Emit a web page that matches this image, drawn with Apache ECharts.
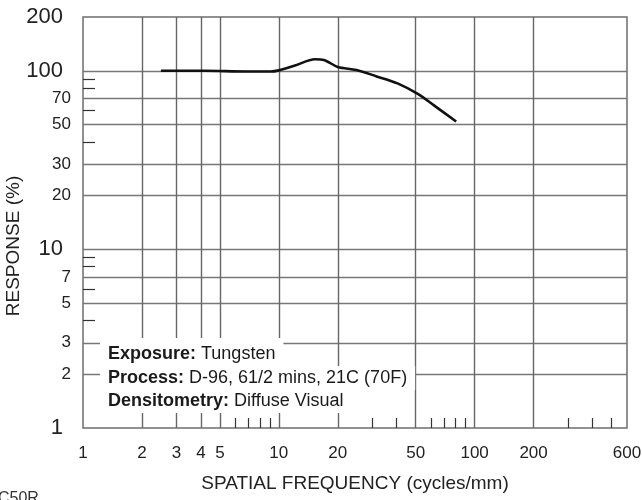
<!DOCTYPE html>
<html><head><meta charset="utf-8">
<script src="https://cdn.jsdelivr.net/npm/echarts@6/dist/echarts.min.js"></script>
<style>html,body{margin:0;padding:0;background:#fff}#c{width:642px;height:500px}</style>
</head><body><div id="c"></div>
<script>
const freq = [2.5, 4.2, 6.8, 9.1, 10, 12.1, 15.3, 17, 20, 24.9, 31.6, 40.4, 51.5, 62, 80.5];
const response = [100, 100, 99, 99, 100.5, 107, 116, 115, 105, 101, 93, 85, 74, 64, 52];
const xLabels = [1, 2, 3, 4, 5, 10, 20, 50, 100, 200, 600];
const xMinor = [6, 7, 8, 9, 30, 40, 60, 70, 80, 90, 300, 400, 500];
const yLabels = [1, 2, 3, 5, 7, 10, 20, 30, 50, 70, 100, 200];
const yBig = [1, 10, 100, 200];
const yMinor = [4, 6, 8, 9, 40, 60, 80, 90];
const noteKeys = ['Exposure:', 'Process:', 'Densitometry:'];
const noteVals = ['Tungsten', 'D-96, 61/2 mins, 21C (70F)', 'Diffuse Visual'];
const xName = 'SPATIAL FREQUENCY (cycles/mm)';
const yName = 'RESPONSE (%)';

const FONT = '"Liberation Sans", Arial, Helvetica, sans-serif';
const chart = echarts.init(document.getElementById('c'), null, {renderer: 'canvas'});
const r = v => Math.round(v * 1000) / 1000;

const noteTops = [338, 366, 390];
const notePads = [[5, 8, 1, 8], [1, 8, 1, 8], [0, 8, 1, 8]];

const option = {
  animation: false,
  backgroundColor: '#fff',
  grid: {left: 83, right: 15, top: 17, bottom: 72, show: true, borderColor: '#6e6e6e', borderWidth: 1.5, outerBoundsMode: 'none'},
  xAxis: [{
    type: 'log', logBase: 10, min: 1, max: 600, position: 'bottom',
    axisLine: {show: false},
    axisTick: {show: false, customValues: xLabels},
    axisLabel: {customValues: xLabels, hideOverlap: false, margin: 17, fontSize: 17, color: '#222', fontFamily: FONT,
      formatter: v => String(r(v))},
    splitLine: {show: true, showMinLine: false, showMaxLine: false, lineStyle: {color: '#666', width: 1.4}},
    minorTick: {show: false}, minorSplitLine: {show: false},
    name: xName, nameLocation: 'middle', nameGap: 46,
    nameTextStyle: {fontSize: 19, color: '#222', fontFamily: FONT}
  }, {
    type: 'log', logBase: 10, min: 1, max: 600, position: 'bottom', gridIndex: 0,
    axisLine: {show: false},
    axisLabel: {show: false},
    splitLine: {show: false},
    axisTick: {show: true, inside: true, length: 10, customValues: xMinor, lineStyle: {color: '#333', width: 1.2}}
  }],
  yAxis: [{
    type: 'log', logBase: 10, min: 1, max: 200, position: 'left',
    axisLine: {show: false},
    axisTick: {show: false, customValues: yLabels},
    axisLabel: {customValues: yLabels, hideOverlap: false, margin: 12, color: '#222', fontFamily: FONT,
      formatter: v => { const n = r(v); return yBig.indexOf(n) >= 0 ? '{b|' + n + '}' : '{s|' + n + '}'; },
      rich: {b: {fontSize: 22, padding: [0, 8, 0, 0], color: '#222', fontFamily: FONT}, s: {fontSize: 17, color: '#222', fontFamily: FONT}}},
    splitLine: {show: true, showMinLine: false, showMaxLine: false, lineStyle: {color: '#777', width: 1.4}},
    minorTick: {show: false}, minorSplitLine: {show: false}
  }, {
    type: 'log', logBase: 10, min: 1, max: 200, position: 'left', gridIndex: 0,
    axisLine: {show: false},
    axisLabel: {show: false},
    splitLine: {show: false},
    axisTick: {show: true, inside: true, length: 12, customValues: yMinor, lineStyle: {color: '#333', width: 1.2}}
  }],
  series: [{
    type: 'line', xAxisIndex: 0, yAxisIndex: 0,
    data: freq.map((f, i) => [f, response[i]]),
    smooth: 0.3, symbol: 'none',
    lineStyle: {color: '#111', width: 2.6}, z: 5
  }],
  graphic: [
    ...noteKeys.map((k, i) => ({
      type: 'text', left: 100, top: noteTops[i], z: 100,
      style: {
        text: '{b|' + k + '} ' + noteVals[i],
        fontSize: 18, fontFamily: FONT, fill: '#1a1a1a', lineHeight: 22,
        backgroundColor: '#fff', padding: notePads[i],
        rich: {b: {fontWeight: 'bold', fontSize: 18, fontFamily: FONT, fill: '#1a1a1a', lineHeight: 22}}
      }
    })),
    {type: 'text', x: 14, y: 246, rotation: Math.PI / 2, z: 100,
      style: {text: yName, fontSize: 19, fontFamily: FONT, fill: '#222', align: 'center', verticalAlign: 'middle'}},
    {type: 'text', left: -2, top: 491, z: 100,
      style: {text: 'C50R', fontSize: 16, fontFamily: FONT, fill: '#333'}}
  ]
};
chart.setOption(option);
</script>
</body></html>
